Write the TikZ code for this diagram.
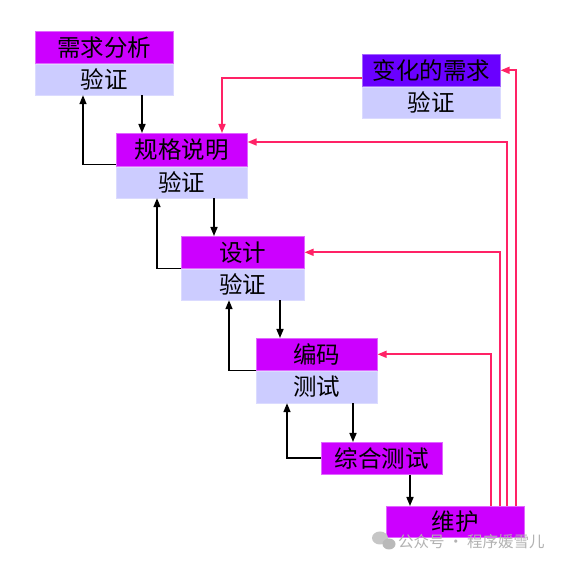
\documentclass[tikz,border=0pt]{standalone}
\usepackage{fontspec}
\newfontfamily\cjk{Noto Sans CJK SC}
\usetikzlibrary{arrows.meta}
\definecolor{hdr}{HTML}{CC00FF}
\definecolor{hdrb}{HTML}{6A00FF}
\definecolor{sub}{HTML}{CCCCFF}
\definecolor{rl}{HTML}{FF2266}
\tikzset{
  hbox/.style={fill=hdr, draw=hdr!60!white, line width=0.6pt, minimum height=32pt, inner sep=0pt, anchor=north west, font=\cjk\fontsize{23.5}{23.5}\selectfont},
  sbox/.style={fill=sub, draw=sub!70!white, line width=0.6pt, minimum height=31pt, inner sep=0pt, anchor=north, font=\cjk\fontsize{23.5}{23.5}\selectfont},
  blk/.style={draw=black, line width=1.6pt, -{Triangle[length=9pt,width=7pt]}},
  red/.style={draw=rl, line width=1.6pt, -{Triangle[length=9pt,width=7pt]}},
}
\begin{document}
\begin{tikzpicture}[x=1pt,y=-1pt]
\useasboundingbox[fill=white] (0,0) rectangle (566,564);
% boxes
\node[hbox, minimum width=138pt] (h1) at (35,31) {需求分析};
\node[sbox, minimum width=138pt] (s1) at (h1.south) {验证};
\node[hbox, minimum width=131pt, minimum height=33pt] (h2) at (116,133) {规格说明};
\node[sbox, minimum width=131pt] (s2) at (h2.south) {验证};
\node[hbox, fill=hdrb, draw=hdrb!60!white, minimum width=138pt] (hc) at (362,54) {变化的需求};
\node[sbox, minimum width=138pt] (sc) at (hc.south) {验证};
\node[hbox, minimum width=123pt] (h3) at (181,236) {设计};
\node[sbox, minimum width=123pt] (s3) at (h3.south) {验证};
\node[hbox, minimum width=121pt] (h4) at (256,338) {编码};
\node[sbox, minimum width=121pt, minimum height=32pt] (s4) at (h4.south) {测试};
\node[hbox, minimum width=121pt] (h5) at (321,442) {综合测试};
\node[hbox, minimum width=138pt, minimum height=31pt] (h6) at (386,506) {维护};
% x positions
\coordinate (x83) at (83,0);
\coordinate (x142) at (142,0);
\coordinate (x157) at (157,0);
\coordinate (x214) at (214,0);
\coordinate (x229) at (229,0);
\coordinate (x280) at (280,0);
\coordinate (x287) at (287,0);
\coordinate (x353) at (353,0);
\coordinate (x410) at (410,0);
\coordinate (x491) at (491,0);
\coordinate (x500) at (500,0);
\coordinate (x507) at (507,0);
\coordinate (x516) at (516,0);
\coordinate (x222) at (222,0);
% black down arrows
\draw[blk] (s1.south -| x142) -- (h2.north -| x142);
\draw[blk] (s2.south -| x214) -- (h3.north -| x214);
\draw[blk] (s3.south -| x280) -- (h4.north -| x280);
\draw[blk] (s4.south -| x353) -- (h5.north -| x353);
\draw[blk] (h5.south -| x410) -- (h6.north -| x410);
% black up arrows
\draw[blk] ([yshift=2pt]h2.south west) -| (s1.south -| x83);
\draw[blk] (h3.south west) -| (s2.south -| x157);
\draw[blk] (h4.south west) -| (s3.south -| x229);
\draw[blk] (h5.west) -| (s4.south -| x287);
% red arrows
\draw[red] (h6.north -| x491) |- (h4.east);
\draw[red] (h6.north -| x500) |- (h3.east);
\draw[red] (h6.north -| x507) |- ([yshift=-9pt]h2.north east);
\draw[red] (h6.north -| x516) |- (hc.east);
\draw[red] ([yshift=-24pt]hc.north west) -| (h2.north -| x222);
% watermark
\fill[gray!45] (380,538) ellipse (8pt and 6.5pt);
\fill[gray!55] (389,544) ellipse (6.5pt and 5.5pt);
\node[font=\cjk\fontsize{15.5}{15.5}\selectfont, text=gray!60, anchor=west, inner sep=0pt] (wm) at (398,542) {公众号 · 程序媛雪儿};
\end{tikzpicture}
\end{document}
